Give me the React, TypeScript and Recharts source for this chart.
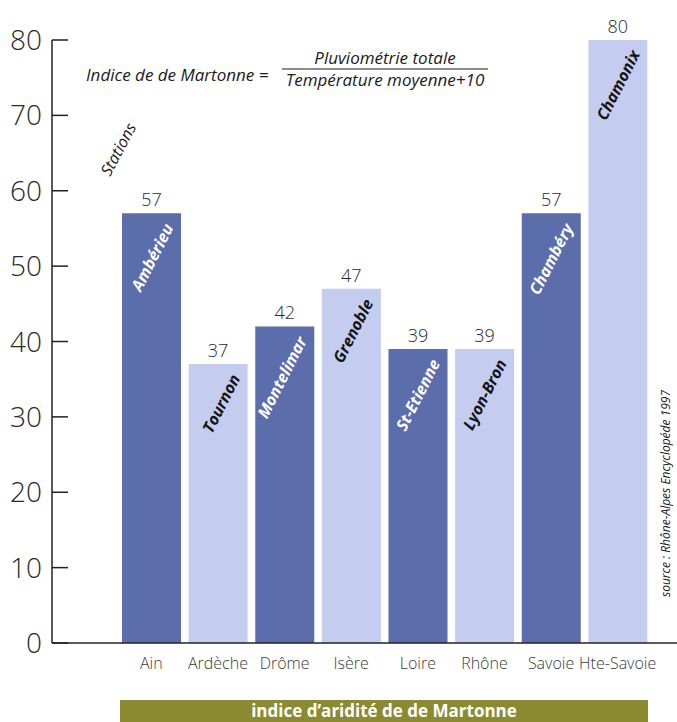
import { Bar, BarChart, Cell, LabelList, XAxis, YAxis } from "recharts";

const departements = ["Ain", "Ardèche", "Drôme", "Isère", "Loire", "Rhône", "Savoie", "Hte-Savoie"];
const stations = ["Ambérieu", "Tournon", "Montelimar", "Grenoble", "St-Etienne", "Lyon-Bron", "Chambéry", "Chamonix"];
const indices = [57, 37, 42, 47, 39, 39, 57, 80];
const shades = ["dark", "light", "dark", "light", "dark", "light", "dark", "light"];
const yTicks = [0, 10, 20, 30, 40, 50, 60, 70, 80];

const DARK = "#5c6dac";
const LIGHT = "#c4cdf0";
const FONT = "'Open Sans', 'Noto Sans', sans-serif";

const data = departements.map((d, i) => ({
  dept: d,
  station: stations[i],
  value: indices[i],
  shade: shades[i],
}));

function YTick(props: any) {
  const { x, y, payload } = props;
  return (
    <text x={x} y={y} dy="0.36em" textAnchor="end" fontSize={28} fontWeight={300} fill="#2a2a2a" fontFamily={FONT}>
      {payload.value}
    </text>
  );
}

function StationLabel(props: any) {
  const { x, y, width, index } = props;
  const isDark = shades[index] === "dark";
  const ax = x + width - 7;
  const ay = y + 14;
  return (
    <text
      x={ax}
      y={ay}
      textAnchor="end"
      transform={`rotate(-63 ${ax} ${ay})`}
      fontSize={16}
      fontWeight={700}
      fontStyle="italic"
      fill={isDark ? "#ffffff" : "#141414"}
      fontFamily={FONT}
    >
      {stations[index]}
    </text>
  );
}

export default function App() {
  return (
    <div style={{ position: "absolute", left: 0, top: 0, width: 677, height: 722, background: "#fff", overflow: "hidden" }}>
      <BarChart width={677} height={722} data={data} margin={{ top: 40, right: 0, bottom: 49, left: 0 }}>
        <XAxis
          dataKey="dept"
          padding={{ left: 66, right: 26 }}
          axisLine={{ stroke: "#222", strokeWidth: 1.5 }}
          tickLine={false}
          tickSize={0}
          tickMargin={15}
          height={30}
          interval={0}
          tick={{ fontSize: 16, fill: "#3a3a3a", fontFamily: FONT, fontWeight: 300 }}
        />
        <YAxis
          domain={[0, 80]}
          ticks={yTicks}
          width={52}
          axisLine={{ stroke: "#222", strokeWidth: 1.5 }}
          tickLine={{ stroke: "#222", strokeWidth: 1.5 }}
          tickSize={-16}
          tickMargin={26}
          tick={<YTick />}
        />
        <Bar dataKey="value" barSize={59} isAnimationActive={false}>
          {data.map((d) => (
            <Cell key={d.dept} fill={d.shade === "dark" ? DARK : LIGHT} />
          ))}
          <LabelList
            dataKey="value"
            position="top"
            offset={7}
            style={{ fontSize: 18, fill: "#2a2a2a", fontFamily: FONT, fontWeight: 300 }}
          />
          <LabelList dataKey="station" content={<StationLabel />} />
        </Bar>
      </BarChart>
      <svg width={677} height={722} style={{ position: "absolute", left: 0, top: 0, pointerEvents: "none" }}>
        <g fontFamily={FONT} fontStyle="italic" fill="#1a1a1a">
          <text x={86} y={81} fontSize={17}>Indice de de Martonne =</text>
          <text x={385} y={64} fontSize={17} textAnchor="middle">Pluviométrie totale</text>
          <line x1={282} x2={488} y1={69} y2={69} stroke="#1a1a1a" strokeWidth={1} />
          <text x={385} y={86} fontSize={17} textAnchor="middle">Température moyenne+10</text>
          <text x={110} y={177} fontSize={16} transform="rotate(-62 110 177)">Stations</text>
          <text x={670} y={597} fontSize={12} transform="rotate(-90 670 597)">source : Rhône-Alpes Encyclopéde 1997</text>
        </g>
        <rect x={120} y={700} width={528} height={30} fill="#8a8a30" />
        <text x={384} y={717} fontSize={17} fontWeight={700} fill="#ffffff" textAnchor="middle" fontFamily={FONT}>
          indice d’aridité de de Martonne
        </text>
      </svg>
    </div>
  );
}
